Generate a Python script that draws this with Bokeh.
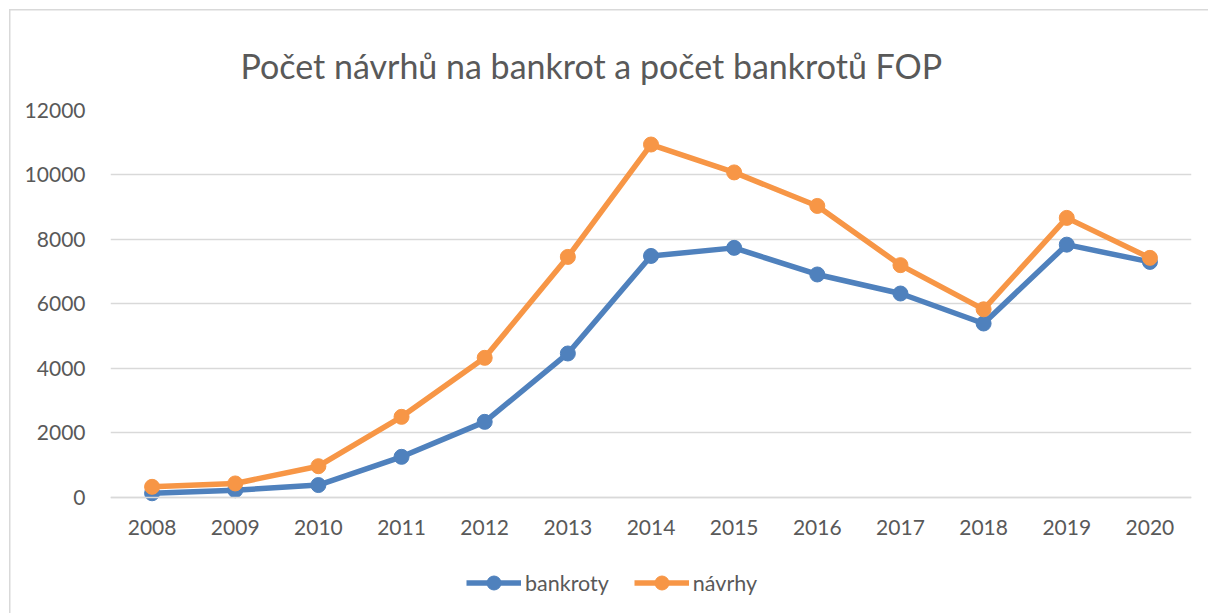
from bokeh.plotting import figure
from bokeh.models import Legend, LegendItem, Title, Range1d
from bokeh.embed import file_html
from bokeh.resources import INLINE

years = ["2008", "2009", "2010", "2011", "2012", "2013", "2014",
         "2015", "2016", "2017", "2018", "2019", "2020"]
bankroty = [130, 225, 385, 1260, 2345, 4465, 7490, 7740, 6915, 6325, 5395, 7840, 7305]
navrhy = [330, 435, 970, 2500, 4330, 7460, 10945, 10080, 9040, 7205, 5835, 8670, 7430]
y_ticks = [0, 2000, 4000, 6000, 8000, 10000, 12000]

FONT = "Lato"
TXT = "#595959"
BLUE = "#4F81BD"
ORANGE = "#F79646"
EDGE = "#d9d9d9"

p = figure(x_range=years, y_range=Range1d(-3350, 12000), width=1208, height=613,
           output_backend="svg", toolbar_location=None,
           min_border_left=110, min_border_right=17, min_border_top=110, min_border_bottom=8,
           styles={
               "background-image": f"linear-gradient({EDGE},{EDGE}), linear-gradient({EDGE},{EDGE})",
               "background-size": "1.5px 100%, 100% 1.5px",
               "background-position": "9px 9px, 9px 9px",
               "background-repeat": "no-repeat",
               "background-color": "white",
           })
p.outline_line_color = None
p.background_fill_color = "white"
p.border_fill_alpha = 0

t = Title(text="Počet návrhů na bankrot a počet bankrotů FOP", align="left",
          text_font=FONT, text_font_size="34px", text_font_style="normal",
          text_color=TXT, offset=130, standoff=50)
p.add_layout(t, "above")

p.yaxis.ticker = y_ticks
p.yaxis.axis_line_color = None
p.yaxis.major_tick_line_color = None
p.yaxis.minor_tick_line_color = None
p.yaxis.major_label_text_font = FONT
p.yaxis.major_label_text_font_size = "21px"
p.yaxis.major_label_text_color = TXT
p.yaxis.major_label_standoff = 19

p.xaxis.fixed_location = 0
p.xaxis.axis_line_color = EDGE
p.xaxis.axis_line_width = 1.5
p.xaxis.major_tick_line_color = None
p.xaxis.minor_tick_line_color = None
p.xaxis.major_label_text_font = FONT
p.xaxis.major_label_text_font_size = "21px"
p.xaxis.major_label_text_color = TXT
p.xaxis.major_label_standoff = 17

p.xgrid.grid_line_color = None
p.ygrid.grid_line_color = EDGE
p.ygrid.grid_line_width = 1.5

lb = p.line(years, bankroty, line_color=BLUE, line_width=5.5)
sb = p.scatter(years, bankroty, size=15, fill_color=BLUE, line_color=BLUE)
ln = p.line(years, navrhy, line_color=ORANGE, line_width=5.5)
sn = p.scatter(years, navrhy, size=15, fill_color=ORANGE, line_color=ORANGE)

legend = Legend(items=[LegendItem(label="bankroty", renderers=[lb, sb]),
                       LegendItem(label="návrhy", renderers=[ln, sn])],
                orientation="horizontal", location=(356, 5),
                label_text_font=FONT, label_text_font_size="21.5px", label_text_color=TXT,
                glyph_width=55, glyph_height=35, label_standoff=4, spacing=25,
                border_line_color=None, background_fill_alpha=0, margin=0, padding=4)
p.add_layout(legend, "center")

open("out.html", "w").write(file_html(p, INLINE))
